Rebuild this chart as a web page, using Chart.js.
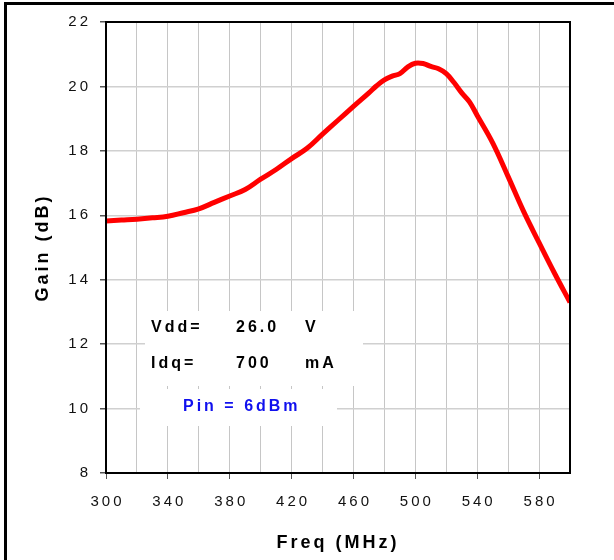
<!DOCTYPE html>
<html>
<head>
<meta charset="utf-8">
<title>Gain vs Freq</title>
<script src="https://cdn.jsdelivr.net/npm/chart.js@4.4.1/dist/chart.umd.min.js"></script>
<style>
    html, body { margin: 0; padding: 0; background: #fff; }
    canvas { display: block; }
</style>
</head>
<body>
<canvas id="gain-chart" width="614" height="560"></canvas>
<script>
// data
const freqMHz = [300, 310, 320, 330, 340, 350, 360, 370, 380, 390, 400, 410, 420, 430, 440, 450, 460, 470,
    475, 480, 485, 490, 495, 500, 505, 510, 515, 520, 525, 530, 535, 540, 550, 560, 570, 580, 590, 600];
const gainDb = [15.82, 15.85, 15.88, 15.92, 15.97, 16.08, 16.2, 16.4, 16.6, 16.8, 17.12, 17.42, 17.76, 18.08, 18.52, 18.95, 19.38, 19.8,
    20.02, 20.2, 20.32, 20.4, 20.6, 20.72, 20.71, 20.62, 20.55, 20.4, 20.12, 19.8, 19.52, 19.1, 18.25, 17.2, 16.12, 15.15, 14.2, 13.3];

const xRange = [300, 600];
const xStep = 20;       // grid step
const xLabelStep = 40;  // labelled ticks
const yRange = [8, 22];
const yStep = 2;

const xTitle = 'Freq (MHz)';
const yTitle = 'Gain (dB)';
const noteRows = [
    ['Vdd=', '26.0', 'V'],
    ['Idq=', '700', 'mA']
];
const noteBlue = 'Pin = 6dBm';

const FONT = "'Liberation Sans Narrow', 'Arial Narrow', 'Liberation Sans', Arial, sans-serif";

// spread the digits like the original
function spaced(text) {
    return String(text).split('').join('\u2009');
}

// frame, plot border, titles and the note boxes
const decorPlugin = {
    id: 'decor',
    afterDraw(chart) {
        const ctx = chart.ctx;
        const area = chart.chartArea;
        ctx.save();

        // outer frame (left and top only visible)
        ctx.fillStyle = '#000';
        ctx.fillRect(4, 2, 610, 3);
        ctx.fillRect(4, 2, 3, 558);

        // plot border
        ctx.strokeStyle = '#000';
        ctx.lineWidth = 2;
        ctx.strokeRect(area.left, area.top, area.right - area.left, area.bottom - area.top);

        // white boxes behind the notes
        ctx.fillStyle = '#fff';
        ctx.fillRect(145, 311, 218, 75);
        ctx.fillRect(140, 389, 197, 37);

        ctx.letterSpacing = '3px';
        ctx.textBaseline = 'alphabetic';
        ctx.textAlign = 'left';
        ctx.font = 'bold 16px ' + FONT;
        ctx.fillStyle = '#000';
        const colX = [151, 236, 305];
        const rowY = [332, 368];
        noteRows.forEach((row, r) => {
            row.forEach((cell, c) => {
                ctx.fillText(cell, colX[c], rowY[r]);
            });
        });
        ctx.fillStyle = '#1010ee';
        ctx.fillText(noteBlue, 183, 411);

        // axis titles
        ctx.fillStyle = '#000';
        ctx.font = 'bold 18px ' + FONT;
        ctx.textAlign = 'center';
        ctx.textBaseline = 'middle';
        ctx.fillText(xTitle, (area.left + area.right) / 2, 543);
        ctx.translate(43, (area.top + area.bottom) / 2);
        ctx.rotate(-Math.PI / 2);
        ctx.fillText(yTitle, 0, 0);

        ctx.restore();
    }
};

function initChart() {
    const canvas = document.getElementById('gain-chart');
    const points = freqMHz.map((f, i) => ({ x: f, y: gainDb[i] }));

    new Chart(canvas.getContext('2d'), {
        type: 'line',
        data: {
            datasets: [{
                label: 'Gain',
                data: points,
                borderColor: '#ff0000',
                borderWidth: 5,
                pointRadius: 0,
                fill: false,
                tension: 0.4
            }]
        },
        options: {
            responsive: false,
            animation: false,
            layout: { padding: { top: 22, right: 44, left: 0, bottom: 0 } },
            plugins: {
                legend: { display: false },
                tooltip: { enabled: false }
            },
            scales: {
                x: {
                    type: 'linear',
                    min: xRange[0],
                    max: xRange[1],
                    afterFit(scale) { scale.height = 87; },
                    border: { color: '#000', width: 2 },
                    grid: {
                        color: '#c6c6c6',
                        lineWidth: 1,
                        tickLength: 6,
                        tickColor: ctx => ((ctx.tick && (ctx.tick.value - xRange[0]) % xLabelStep === 0) ? '#555' : 'rgba(0,0,0,0)')
                    },
                    ticks: {
                        stepSize: xStep,
                        autoSkip: false,
                        maxRotation: 0,
                        padding: 14,
                        color: '#111',
                        font: { family: FONT, size: 15 },
                        callback: v => ((v - xRange[0]) % xLabelStep === 0 ? spaced(v) : '')
                    }
                },
                y: {
                    min: yRange[0],
                    max: yRange[1],
                    afterFit(scale) { scale.width = 106; },
                    border: { color: '#000', width: 2 },
                    grid: {
                        color: '#d0d0d0',
                        lineWidth: 1.5,
                        tickLength: 6,
                        tickColor: '#555'
                    },
                    ticks: {
                        stepSize: yStep,
                        padding: 12,
                        color: '#111',
                        font: { family: FONT, size: 15 },
                        callback: v => spaced(v)
                    }
                }
            }
        },
        plugins: [decorPlugin]
    });
}

initChart();
</script>
</body>
</html>
